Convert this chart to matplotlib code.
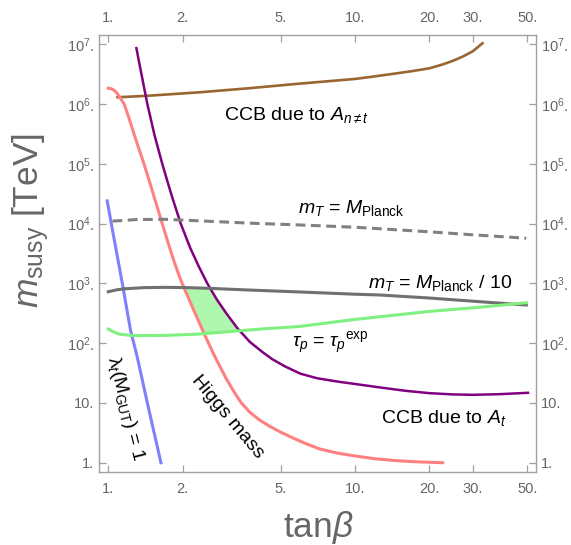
import numpy as np
import matplotlib
matplotlib.use("Agg")
import matplotlib.pyplot as plt
from matplotlib.ticker import NullLocator

plt.rcParams["font.family"] = ["Liberation Sans", "DejaVu Sans"]
plt.rcParams["mathtext.fontset"] = "custom"
plt.rcParams["mathtext.rm"] = "Liberation Sans"
plt.rcParams["mathtext.it"] = "Liberation Sans:italic"
plt.rcParams["mathtext.bf"] = "Liberation Sans:bold"

# ---- curve data: tan(beta) and m_susy [TeV] ----
higgs_tb = [1.00, 1.03, 1.06, 1.09, 1.12, 1.16, 1.21, 1.27, 1.33, 1.395, 1.46, 1.53, 1.655, 1.75, 1.85,
            1.95, 2.05, 2.2, 2.35, 2.5, 2.65, 2.8, 3.0, 3.2, 3.45, 3.75, 4.1, 4.5, 5.0, 5.6, 6.3, 7.2,
            8.5, 10.0, 12.0, 14.5, 17.5, 20.0, 22.7]
higgs_m = [1.84e6, 1.80e6, 1.68e6, 1.48e6, 1.25e6, 1.0e6, 6.0e5, 3.2e5, 1.8e5, 1.0e5, 5.5e4, 2.9e4, 1.0e4,
           4.7e3, 2.3e3, 1.25e3, 760, 390, 210, 119, 71, 45, 26, 16.5, 10.2, 7.0, 5.2, 4.1, 3.25, 2.6,
           2.1, 1.7, 1.45, 1.3, 1.17, 1.09, 1.04, 1.02, 1.0]

ccb_t_tb = [1.30, 1.36, 1.44, 1.54, 1.655, 1.80, 1.966, 2.15, 2.33, 2.52, 2.75, 3.0, 3.33, 3.75, 4.2,
            4.62, 5.2, 6.0, 7.0, 8.5, 10.0, 12.5, 16.0, 20.0, 25.0, 30.0, 38.0, 50.3]
ccb_t_m = [8.6e6, 3.3e6, 1.0e6, 3.0e5, 1.0e5, 3.1e4, 1.0e4, 3.9e3, 1.9e3, 1.0e3, 543, 322, 180, 105, 72,
           54, 41, 31, 26, 22.8, 20.8, 18.3, 16.0, 14.6, 13.9, 13.7, 14.0, 14.8]

ccb_n_tb = [1.09, 1.42, 2.33, 3.72, 5.99, 10.0, 12.0, 14.8, 17.0, 20.0, 22.5, 25.0, 27.5, 30.0, 32.9]
ccb_n_m = [1.30e6, 1.37e6, 1.57e6, 1.84e6, 2.2e6, 2.63e6, 2.9e6, 3.27e6, 3.55e6, 3.96e6, 4.55e6, 5.3e6,
           6.3e6, 7.6e6, 1.04e7]

planck_tb = [1.04, 1.3, 1.71, 2.5, 3.72, 5.99, 10.0, 20.0, 30.0, 49.5]
planck_m = [1.10e4, 1.17e4, 1.18e4, 1.1e4, 1.02e4, 9.5e3, 8.7e3, 7.3e3, 6.5e3, 5.7e3]

planck10_tb = [1.0, 1.08, 1.16, 1.4, 1.71, 2.1, 2.56, 3.72, 5.93, 10.0, 12.6, 20.0, 32.2, 49.5]
planck10_m = [726, 780, 812, 850, 860, 850, 828, 775, 720, 660, 640, 570, 494, 435]

taup_tb = [1.0, 1.05, 1.105, 1.25, 1.71, 2.33, 3.18, 4.35, 5.93, 10.0, 20.0, 32.2, 49.5]
taup_m = [172, 155, 142, 134, 135, 142, 158, 175, 190, 250, 340, 400, 475]

lam_tb = [0.99, 1.04, 1.14, 1.23, 1.31, 1.44, 1.635]
lam_m = [2.4e4, 7.8e3, 1.0e3, 166, 59, 10, 1.0]

x_ticks = [1, 2, 5, 10, 20, 30, 50]
x_labels = ["1.", "2.", "5.", "10.", "20.", "30.", "50."]
y_ticks = [1, 10, 1e2, 1e3, 1e4, 1e5, 1e6, 1e7]
y_labels = ["1.", "10."] + [r"$10^{%d}$." % k for k in range(2, 8)]

# ---- figure ----
fig = plt.figure(figsize=(5.71, 5.45), dpi=100)
ax = fig.add_axes([0.1734, 0.1339, 0.7653, 0.8019])
ax.set_xscale("log")
ax.set_yscale("log")
ax.set_xlim(0.917, 54.2)
ax.set_ylim(0.70, 1.43e7)

# allowed region: between Higgs-mass and CCB(A_t) curves, above tau_p, below m_T = M_Planck/10
def logi(xq, xs, ys):
    return 10 ** np.interp(np.log10(xq), np.log10(xs), np.log10(ys))

grid = np.logspace(np.log10(1.6), np.log10(6.0), 800)
lower = np.maximum(logi(grid, taup_tb, taup_m), logi(grid, higgs_tb, higgs_m))
upper = np.minimum(logi(grid, planck10_tb, planck10_m), logi(grid, ccb_t_tb, ccb_t_m))
ax.fill_between(grid, lower, upper, where=upper > lower, color="#a6f5a6", lw=0, alpha=0.9, zorder=1)

ax.plot(ccb_n_tb, ccb_n_m, color="#996633", lw=1.9, zorder=3)
ax.plot(higgs_tb, higgs_m, color="#ff8080", lw=2.2, zorder=3)
ax.plot(ccb_t_tb, ccb_t_m, color="#800080", lw=1.8, zorder=3)
ax.plot(lam_tb, lam_m, color="#8080ff", lw=2.2, zorder=3)
ax.plot(planck_tb, planck_m, color="#808080", lw=2.2, ls=(0, (3.2, 1.8)), zorder=3)
ax.plot(planck10_tb, planck10_m, color="#707070", lw=2.2, zorder=3)
ax.plot(taup_tb, taup_m, color="#80f080", lw=2.2, zorder=3)

# ---- annotations ----
fs = 14
ax.text(2.94, 5.4e5, r"CCB due to $A_{n\neq t}$", fontsize=fs, ha="left", va="baseline")
ax.text(5.87, 1.49e4, r"$m_T$ = $M_{\rm Planck}$", fontsize=fs, ha="left", va="baseline")
ax.text(11.3, 828, r"$m_T$ = $M_{\rm Planck}$ / 10", fontsize=fs, ha="left", va="baseline")
ax.text(5.54, 87, r"$\tau_p$ = ${\tau_p}^{\rm exp}$", fontsize=fs, ha="left", va="baseline")
ax.text(12.8, 4.56, r"CCB due to $A_t$", fontsize=fs, ha="left", va="baseline")
ax.text(3.03, 5.8, "Higgs mass", fontsize=fs, ha="center", va="center", rotation=-50, rotation_mode="anchor")
ax.text(1.169, 8.2, r"$\mathrm{\lambda}_t(\mathrm{M}_{\rm GUT})$ = 1", fontsize=fs, ha="center", va="center",
        rotation=-76, rotation_mode="anchor")

# ---- axes styling ----
frame_col = "#a0a0a0"
lab_col = "#666666"
for s in ax.spines.values():
    s.set_color(frame_col)
    s.set_linewidth(1.0)
ax.xaxis.set_minor_locator(NullLocator())
ax.yaxis.set_minor_locator(NullLocator())
ax.set_xticks(x_ticks, x_labels)
ax.set_yticks(y_ticks, y_labels)
ax.tick_params(which="major", direction="in", length=5, width=0.9, color=frame_col,
               labelcolor=lab_col, labelsize=10.5, top=True, right=True,
               labeltop=True, labelright=True)
ax.tick_params(axis="x", pad=7)
ax.tick_params(axis="y", pad=3.5)

fig.text(318 / 571, 1 - 537 / 545, r"tan$\beta$", fontsize=25.5, color=lab_col, ha="center", va="baseline")
fig.text(31 / 571, 1 - 220 / 545, r"$m_{\rm susy}$ [TeV]", fontsize=25.5, color=lab_col,
         ha="center", va="center", rotation=90)

fig.savefig("out.png", dpi=100)
